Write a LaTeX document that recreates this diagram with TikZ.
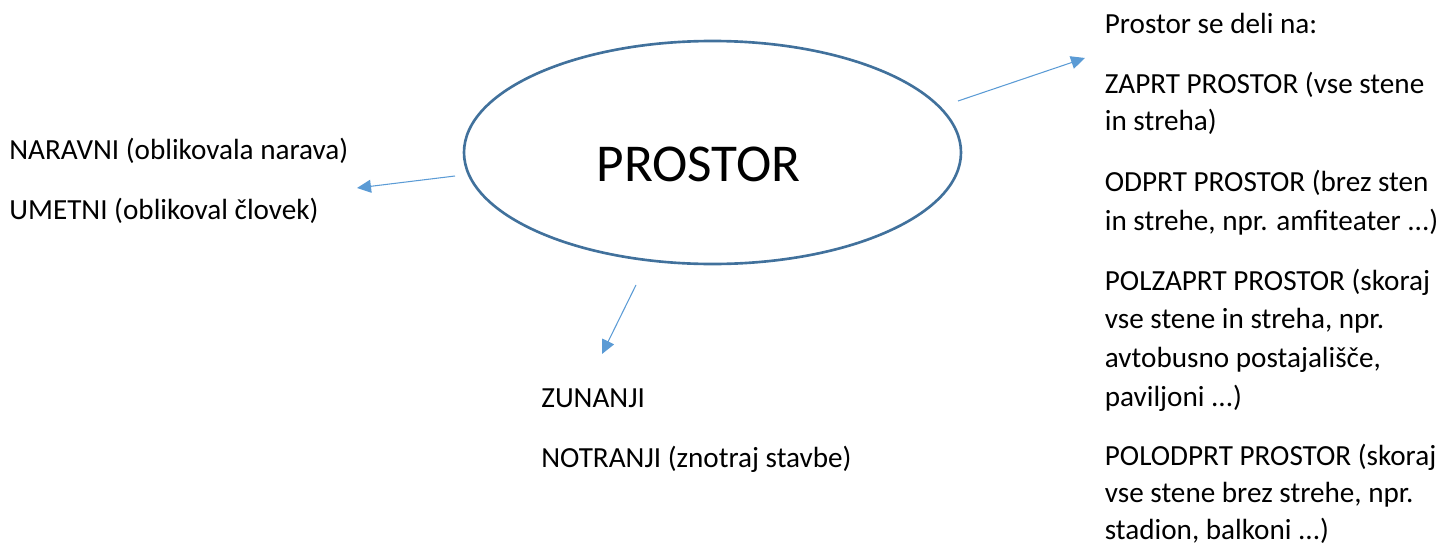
\documentclass[tikz,border=0pt]{standalone}
\usepackage{fontspec}
\setmainfont{Carlito}
\usetikzlibrary{shapes.geometric,arrows.meta}
\begin{document}
\begin{tikzpicture}[
  line/.style = {anchor = base west, inner sep = 0pt, font = \fontsize{16.6}{20}\selectfont},
  link/.style = {draw = arrowblue, line width = 0.6pt, -{Triangle[length = 0.28cm, width = 0.26cm]}}
]
\definecolor{ringblue}{HTML}{41719C}
\definecolor{arrowblue}{HTML}{5B9BD5}
\useasboundingbox (0, 0) rectangle (28.94, -10.94);
% main ellipse
\node[ellipse, draw = ringblue, line width = 1.5pt, minimum width = 9.94cm, minimum height = 4.46cm] (prostor) at (14.25, -3.05) {};
\node[anchor = base, inner sep = 0pt, font = \fontsize{30.3}{36}\selectfont] (naslov) at (13.97, -3.62) {PROSTOR};
% left
\node[line] (naravni) at (0.18, -3.18) {NARAVNI (oblikovala narava)};
\node[line] (umetni) at (0.18, -4.38) {UMETNI (oblikoval človek)};
% bottom
\node[line] (zunanji) at (10.82, -8.14) {ZUNANJI};
\node[line] (notranji) at (10.82, -9.34) {NOTRANJI (znotraj stavbe)};
% right
\node[line] (deli) at (22.09, -0.66) {Prostor se deli na:};
\node[line] (zaprt1) at (22.09, -1.86) {ZAPRT PROSTOR (vse stene};
\node[line] (zaprt2) at (22.09, -2.62) {in streha)};
\node[line] (odprt1) at (22.09, -3.83) {ODPRT PROSTOR (brez sten};
\node[line] (odprt2) at (22.09, -4.60) {in strehe, npr. amfiteater ...)};
\node[line] (polzaprt1) at (22.09, -5.80) {POLZAPRT PROSTOR (skoraj};
\node[line] (polzaprt2) at (22.09, -6.57) {vse stene in streha, npr.};
\node[line] (polzaprt3) at (22.09, -7.35) {avtobusno postajališče,};
\node[line] (polzaprt4) at (22.09, -8.13) {paviljoni ...)};
\node[line] (polodprt1) at (22.09, -9.30) {POLODPRT PROSTOR (skoraj};
\node[line] (polodprt2) at (22.09, -10.05) {vse stene brez strehe, npr.};
\node[line] (polodprt3) at (22.09, -10.78) {stadion, balkoni ...)};
% arrows
\coordinate (desno) at (19.16, -2.02);
\coordinate (desnokonec) at (21.70, -1.16);
\coordinate (levo) at (9.10, -3.52);
\coordinate (levokonec) at (7.14, -3.76);
\coordinate (dol) at (12.72, -5.70);
\coordinate (dolkonec) at (12.04, -7.08);
\draw[link] (desno) -- (desnokonec);
\draw[link] (levo) -- (levokonec);
\draw[link] (dol) -- (dolkonec);
\end{tikzpicture}
\end{document}
